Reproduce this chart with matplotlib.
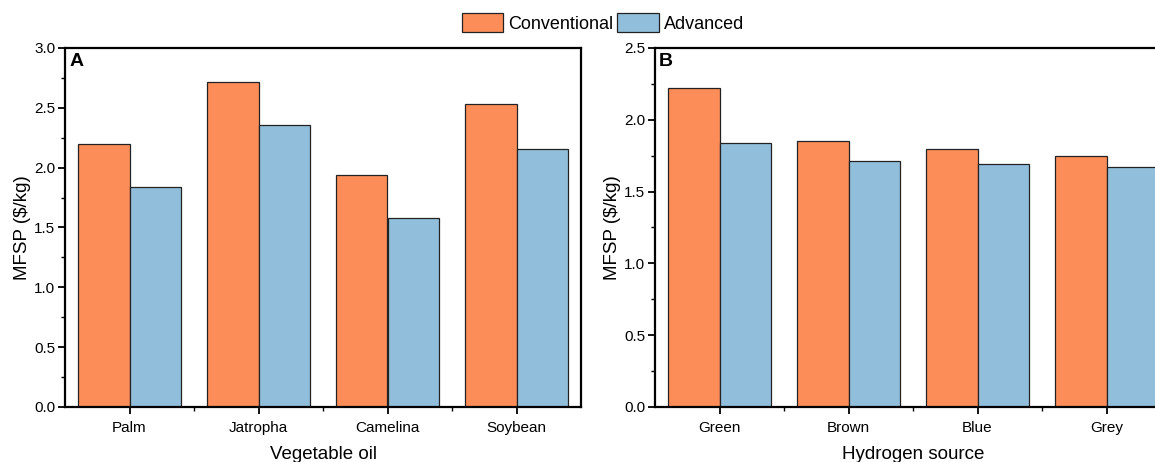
import matplotlib
matplotlib.use("Agg")
import matplotlib.pyplot as plt
import numpy as np
from matplotlib.ticker import MultipleLocator
from matplotlib.patches import Patch

plt.rcParams['font.family'] = ['Liberation Sans', 'DejaVu Sans']

oils = ["Palm", "Jatropha", "Camelina", "Soybean"]
oil_conv = [2.20, 2.72, 1.94, 2.53]
oil_adv = [1.84, 2.36, 1.58, 2.16]

h2 = ["Green", "Brown", "Blue", "Grey"]
h2_conv = [2.22, 1.85, 1.80, 1.75]
h2_adv = [1.84, 1.71, 1.69, 1.67]

series_names = ["Conventional", "Advanced"]
c_conv = "#FC8D59"
c_adv = "#91BFDB"
edge = "#222222"

W, H = 1155, 462
fig = plt.figure(figsize=(W / 100, H / 100), dpi=100)

def px_axes(x0, x1, ytop, ybot):
    return fig.add_axes([x0 / W, 1 - ybot / H, (x1 - x0) / W, (ybot - ytop) / H])

axA = px_axes(65, 581, 48, 407)
axB = px_axes(655, 1171, 48, 407)

def draw(ax, cats, conv, adv, ymax, xlabel, letter):
    x = np.arange(len(cats))
    w = 0.4
    ax.bar(x - w / 2, conv, w, color=c_conv, edgecolor=edge, linewidth=0.9)
    ax.bar(x + w / 2, adv, w, color=c_adv, edgecolor=edge, linewidth=0.9)
    ax.set_xlim(-0.5, len(cats) - 0.5)
    ax.set_ylim(0, ymax)
    ax.set_xticks(x)
    ax.set_xticklabels(cats)
    ax.set_xticks(np.arange(len(cats) - 1) + 0.5, minor=True)
    ax.yaxis.set_major_locator(MultipleLocator(0.5))
    ax.yaxis.set_minor_locator(MultipleLocator(0.25))
    ax.yaxis.set_major_formatter(matplotlib.ticker.FormatStrFormatter('%.1f'))
    ax.tick_params(axis='both', which='major', direction='out', length=5, width=1.3, labelsize=11, pad=2)
    ax.tick_params(axis='x', which='major', pad=5)
    ax.tick_params(axis='both', which='minor', direction='out', length=3, width=1.0)
    ax.tick_params(top=False, right=False, which='both')
    for s in ax.spines.values():
        s.set_linewidth(1.6)
    ax.set_xlabel(xlabel, fontsize=13.5, labelpad=8)
    ax.set_ylabel(r"MFSP (\$/kg)", fontsize=13.5, labelpad=2)
    ax.text(0.008, 0.985, letter, transform=ax.transAxes, fontsize=14,
            fontweight='bold', va='top', ha='left')

draw(axA, oils, oil_conv, oil_adv, 3.0, "Vegetable oil", "A")
draw(axB, h2, h2_conv, h2_adv, 2.5, "Hydrogen source", "B")

handles = [Patch(facecolor=c_conv, edgecolor=edge, linewidth=0.9),
           Patch(facecolor=c_adv, edgecolor=edge, linewidth=0.9)]
fig.legend(handles, series_names, loc='center', bbox_to_anchor=(603 / W, 1 - 23 / H),
           ncol=2, frameon=False, fontsize=13, handlelength=2.3, handleheight=1.2,
           handletextpad=0.3, columnspacing=0.2)

fig.savefig("out.png", dpi=100)
